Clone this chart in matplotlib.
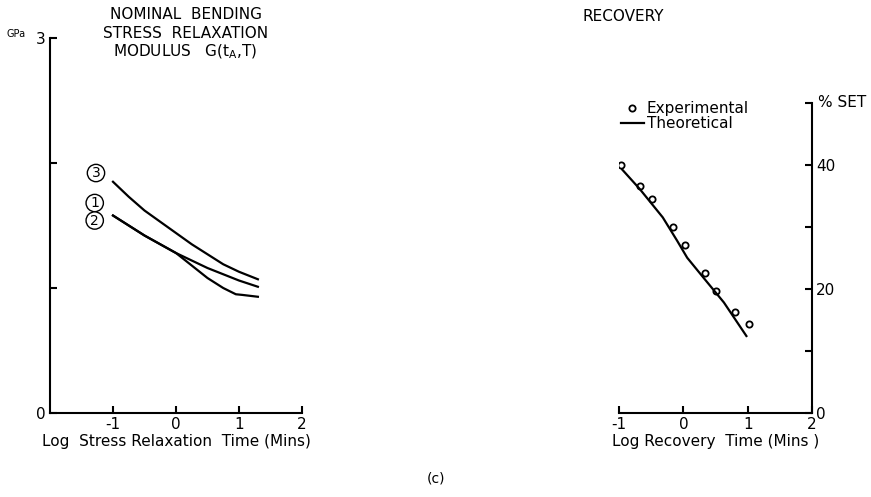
import matplotlib.pyplot as plt

# Nominal bending stress relaxation modulus (GPa) vs log time (mins)
log_t3 = [-1.0, -0.75, -0.5, -0.25, 0.0, 0.25, 0.5, 0.75, 1.0, 1.3]
g3 = [1.85, 1.73, 1.62, 1.53, 1.44, 1.35, 1.27, 1.19, 1.13, 1.07]

log_t1 = [-1.0, -0.75, -0.5, -0.25, 0.0, 0.25, 0.5, 0.75, 1.0, 1.3]
g1 = [1.58, 1.50, 1.42, 1.35, 1.28, 1.22, 1.16, 1.11, 1.06, 1.01]

log_t2 = [-1.0, -0.75, -0.5, -0.25, 0.0, 0.25, 0.5, 0.75, 0.95, 1.05, 1.3]
g2 = [1.58, 1.50, 1.42, 1.35, 1.28, 1.18, 1.08, 1.00, 0.95, 0.945, 0.93]

curve_labels = ["3", "1", "2"]
label_pos = [(-1.27, 1.92), (-1.29, 1.68), (-1.29, 1.54)]

# Recovery (% set) vs log recovery time (mins)
log_rec_exp = [-0.97, -0.67, -0.48, -0.16, 0.02, 0.33, 0.51, 0.81, 1.02]
set_exp = [40.0, 36.6, 34.5, 30.0, 27.1, 22.6, 19.7, 16.2, 14.3]

log_rec_theo = [-0.95, -0.68, -0.32, -0.1, 0.06, 0.32, 0.63, 0.98]
set_theo = [39.2, 36.1, 31.5, 27.8, 25.0, 21.7, 17.8, 12.4]

plt.rcParams["font.family"] = ["DejaVu Sans"]
plt.rcParams["axes.unicode_minus"] = False
fig = plt.figure(figsize=(8.71, 4.97), dpi=100)

# left panel
ax1 = fig.add_axes([0.0574, 0.169, 0.2893, 0.7545])
for x, y in [(log_t3, g3), (log_t1, g1), (log_t2, g2)]:
    ax1.plot(x, y, color="black", lw=1.6)
for lab, (x, y) in zip(curve_labels, label_pos):
    ax1.text(x, y, lab, ha="center", va="center", fontsize=10,
             bbox=dict(boxstyle="circle,pad=0.12", fc="white", ec="black", lw=1.0))
ax1.set_xlim(-2, 2)
ax1.set_ylim(0, 3)
ax1.set_xticks([-1, 0, 1, 2])
ax1.set_yticks([0, 1, 2, 3])
ax1.set_yticklabels(["0", "", "", "3"])
ax1.spines[["top", "right"]].set_visible(False)
for s in ax1.spines.values():
    s.set_linewidth(1.5)
ax1.tick_params(direction="in", length=5, width=1.5, labelsize=11, pad=3)
ax1.set_xlabel("Log  Stress Relaxation  Time (Mins)", fontsize=11, labelpad=1)
fig.text(0.008, 0.925, "GPa", fontsize=7)

fig.text(0.213, 0.97, "NOMINAL  BENDING", ha="center", va="center", fontsize=11)
fig.text(0.213, 0.933, "STRESS  RELAXATION", ha="center", va="center", fontsize=11)
fig.text(0.213, 0.895, "MODULUS   G(t$_\\mathrm{A}$,T)", ha="center", va="center", fontsize=11)

# right panel
ax2 = fig.add_axes([0.7107, 0.169, 0.2216, 0.6247])
ax2.plot(log_rec_exp, set_exp, "o", mfc="white", mec="black", mew=1.3, ms=4.5,
         label="Experimental")
ax2.plot(log_rec_theo, set_theo, color="black", lw=1.6, label="Theoretical")
ax2.set_xlim(-1, 2)
ax2.set_ylim(0, 50)
ax2.set_xticks([-1, 0, 1, 2])
ax2.set_yticks([0, 10, 20, 30, 40, 50])
ax2.set_yticklabels(["0", "", "20", "", "40", ""])
ax2.spines[["top", "left"]].set_visible(False)
for s in ax2.spines.values():
    s.set_linewidth(1.5)
ax2.yaxis.tick_right()
ax2.tick_params(direction="in", length=5, width=1.5, labelsize=11, pad=3)
ax2.set_xlabel("Log Recovery  Time (Mins )", fontsize=11, labelpad=1)
ax2.legend(loc="upper left", bbox_to_anchor=(-0.03, 1.03), frameon=False,
           fontsize=11, handlelength=1.5, handletextpad=0.2, borderpad=0,
           labelspacing=0.0)
ax2.text(1.03, 1.0, "% SET", transform=ax2.transAxes, fontsize=11, va="center")

fig.text(0.716, 0.967, "RECOVERY", ha="center", va="center", fontsize=11)
fig.text(0.5006, 0.038, "(c)", ha="center", va="center", fontsize=10)

fig.savefig("out.png", dpi=100)
